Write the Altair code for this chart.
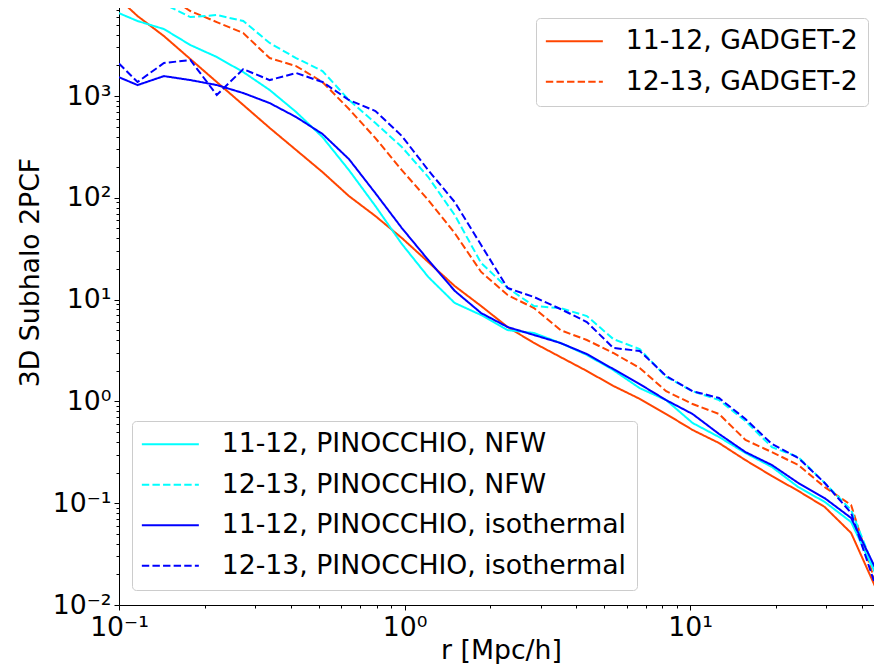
import altair as alt
import pandas as pd

# separation r [Mpc/h] (bin centres)
r_mpc = [0.0941, 0.1161, 0.1437, 0.1778, 0.2200, 0.2724, 0.3371, 0.4172, 0.5162, 0.6390,
         0.7909, 0.9786, 1.211, 1.499, 1.855, 2.297, 2.842, 3.517, 4.352, 5.387,
         6.665, 8.249, 10.21, 12.64, 15.64, 19.36, 23.95, 29.64, 36.67, 45.41]

gadget_11_12 = [10520, 6110, 3880, 2307, 1373, 817, 486, 295, 179, 104,
                66.2, 40.3, 23.4, 13.6, 8.65, 5.38, 3.75, 2.73, 1.99, 1.42,
                1.06, 0.752, 0.524, 0.390, 0.265, 0.185, 0.132, 0.0918, 0.0510, 0.0134]
gadget_12_13 = [19400, 13800, 10000, 6840, 5330, 4160, 2360, 1970, 1373, 745,
                386, 187, 95.1, 45.1, 18.7, 11.1, 8.26, 5.02, 4.01, 2.99,
                2.13, 1.26, 0.942, 0.752, 0.418, 0.318, 0.237, 0.144, 0.0960, 0.0140]
pin_nfw_11_12 = [7000, 5460, 4550, 3170, 2420, 1720, 1146, 697, 395, 187,
                 83.0, 35.2, 16.7, 9.27, 7.06, 5.02, 4.70, 3.75, 2.86, 2.03,
                 1.35, 1.03, 0.614, 0.447, 0.311, 0.227, 0.144, 0.103, 0.0653, 0.0184]
pin_nfw_12_13 = [13800, 11500, 8020, 5970, 6250, 5460, 3320, 2360, 1760, 914,
                 543, 316, 160, 67.8, 22.9, 13.0, 8.65, 8.26, 6.90, 4.10,
                 3.27, 1.74, 1.26, 1.03, 0.641, 0.356, 0.284, 0.158, 0.0857, 0.0188]
pin_iso_11_12 = [1644, 1282, 1570, 1435, 1282, 1070, 853, 622, 424, 240,
                 111, 50.5, 24.5, 12.2, 7.38, 5.38, 4.49, 3.75, 2.92, 2.08,
                 1.48, 1.03, 0.752, 0.479, 0.318, 0.237, 0.158, 0.112, 0.0716, 0.0207]
pin_iso_12_13 = [2470, 1373, 2110, 2260, 1023, 1840, 1435, 1683, 1373, 914,
                 713, 405, 187, 91.0, 34.4, 13.0, 10.6, 8.09, 6.03, 3.35,
                 3.13, 1.78, 1.26, 1.08, 0.671, 0.382, 0.278, 0.158, 0.0802, 0.0134]

gadget_names = ["11-12, GADGET-2", "12-13, GADGET-2"]
pin_names = ["11-12, PINOCCHIO, NFW", "12-13, PINOCCHIO, NFW",
             "11-12, PINOCCHIO, isothermal", "12-13, PINOCCHIO, isothermal"]
gadget_colors = ["#ff4500", "#ff4500"]
pin_colors = ["#00ffff", "#00ffff", "#0000ff", "#0000ff"]
solid = [1, 0]
dashed = [7.4, 3.2]

series = [
    (gadget_names[0], "G", gadget_11_12),
    (gadget_names[1], "G", gadget_12_13),
    (pin_names[0], "P", pin_nfw_11_12),
    (pin_names[1], "P", pin_nfw_12_13),
    (pin_names[2], "P", pin_iso_11_12),
    (pin_names[3], "P", pin_iso_12_13),
]
rows = []
for name, grp, vals in series:
    for order, (x, v) in enumerate(zip(r_mpc, vals)):
        rows.append({"r": x, "xi": v, "series": name, "group": grp, "order": order})
df = pd.DataFrame(rows)

W, H = 755, 601
x_dom = [0.1, 44.1]
y_dom = [0.01, 8020]

x_ticks = [round(m * 10 ** e, 6) for e in (-1, 0, 1) for m in range(1, 10) if m * 10 ** e <= 44]
y_ticks = [round(m * 10 ** e, 6) for e in (-2, -1, 0, 1, 2, 3) for m in range(1, 10) if m * 10 ** e <= 8020]
major = [0.01, 0.1, 1, 10, 100, 1000]
sup = ["10\u207b\u00b2", "10\u207b\u00b9", "10\u2070", "10\u00b9", "10\u00b2", "10\u00b3"]
major_s = "[" + ",".join(str(m) for m in major) + "]"
sup_s = "[" + ",".join("'" + s + "'" for s in sup) + "]"
label_expr = f"indexof({major_s}, datum.value) >= 0 ? {sup_s}[indexof({major_s}, datum.value)] : ''"
tick_size = {"condition": {"test": f"indexof({major_s}, datum.value) >= 0", "value": 5}, "value": 3}

FONT = "DejaVu Sans"
FS = 26.7

x_enc = alt.X("r:Q", scale=alt.Scale(type="log", domain=x_dom, nice=False),
              axis=alt.Axis(values=x_ticks, labelExpr=label_expr, tickSize=tick_size,
                            title="r [Mpc/h]", titleX=382, titleY=53,
                            titleBaseline="alphabetic", titleAlign="center",
                            labelPadding=4, labelFlush=False, labelOverlap=False, grid=False))
y_enc = alt.Y("xi:Q", scale=alt.Scale(type="log", domain=y_dom, nice=False),
              axis=alt.Axis(values=y_ticks, labelExpr=label_expr, tickSize=tick_size,
                            title="3D Subhalo 2PCF", titleX=-81, titleY=268, titleAngle=270,
                            titleBaseline="alphabetic", titleAlign="center",
                            labelPadding=3, labelOverlap=False, grid=False))

# legend handle: a 57 px horizontal line drawn by a custom path on a small symbol
HANDLE = "M-5.7,0H5.7"


def legend(x, y, pad):
    return alt.Legend(title=None, orient="none", legendX=x, legendY=y,
                      symbolType=HANDLE, symbolSize=100, symbolStrokeWidth=2,
                      symbolOffset=15,
                      labelFont=FONT, labelFontSize=FS, labelColor="black",
                      labelOffset=38, rowPadding=12.5, padding=pad, labelLimit=800,
                      strokeColor="#cccccc", fillColor="rgba(255,255,255,0.8)",
                      cornerRadius=4)


leg_g = legend(417, 14, 10)
leg_p = legend(13, 417, 10)

gadget = alt.Chart(df).transform_filter(alt.datum.group == "G").mark_line(strokeWidth=2, clip=True).encode(
    x=x_enc, y=y_enc, order="order:Q",
    color=alt.Color("series:N", scale=alt.Scale(domain=gadget_names, range=gadget_colors), legend=leg_g),
    strokeDash=alt.StrokeDash("series:N", scale=alt.Scale(domain=gadget_names, range=[solid, dashed]), legend=leg_g),
)
pin = alt.Chart(df).transform_filter(alt.datum.group == "P").mark_line(strokeWidth=2, clip=True).encode(
    x=x_enc, y=y_enc, order="order:Q",
    color=alt.Color("series:N", scale=alt.Scale(domain=pin_names, range=pin_colors), legend=leg_p),
    strokeDash=alt.StrokeDash("series:N", scale=alt.Scale(domain=pin_names, range=[solid, dashed, solid, dashed]), legend=leg_p),
)
top_spine = alt.Chart(alt.Data(values=[{}])).mark_rule(color="black", strokeWidth=1).encode(
    x=alt.value(0), x2=alt.value(W), y=alt.value(0)
)

chart = alt.layer(gadget, pin, top_spine).resolve_scale(
    color="independent", strokeDash="independent"
).properties(
    width=W, height=H,
    background="white",
    autosize=alt.AutoSizeParams(type="none"),
    padding={"left": 111, "top": -4, "right": 0, "bottom": 59},
).configure_axis(
    grid=False, domainColor="black", domainWidth=1, tickColor="black", tickWidth=1,
    labelFont=FONT, labelFontSize=FS, labelColor="black",
    titleFont=FONT, titleFontSize=FS, titleFontWeight="normal", titleColor="black",
).configure_view(strokeWidth=0)

chart.save("out.html", embed_options={"renderer": "svg", "actions": False})
